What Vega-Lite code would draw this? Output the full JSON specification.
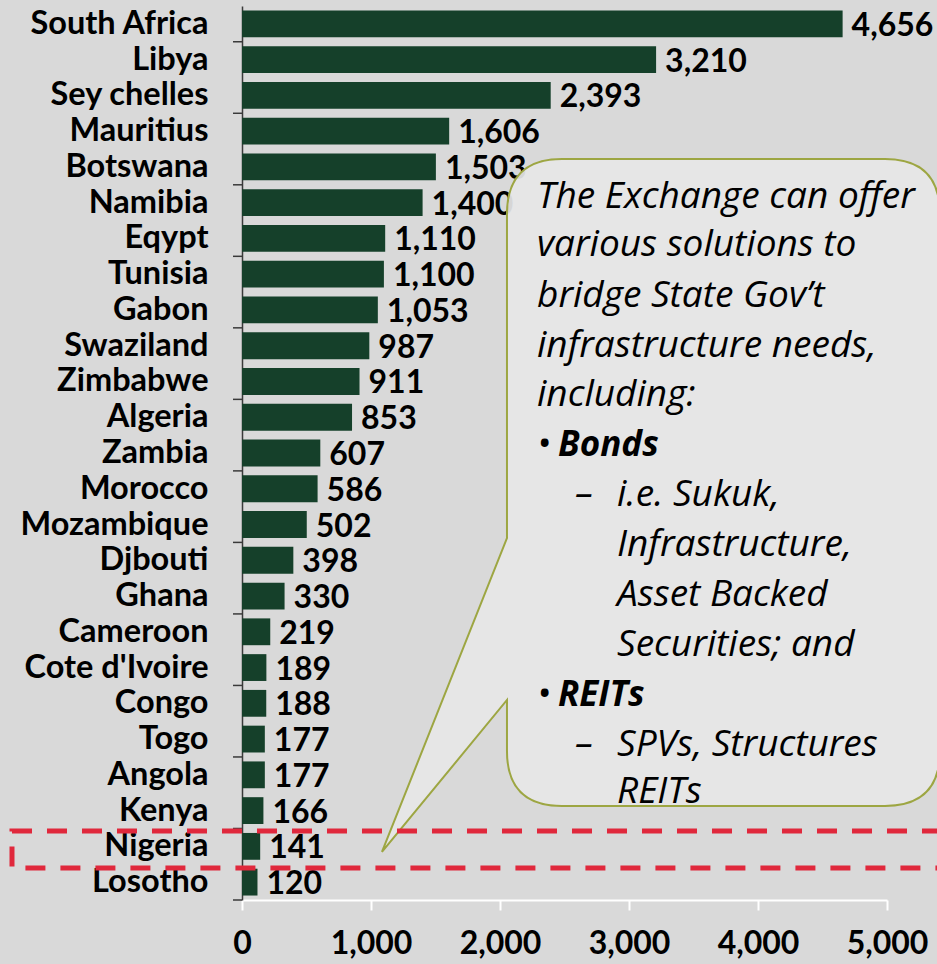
{
  "$schema": "https://vega.github.io/schema/vega-lite/v6.json",
  "width": 645,
  "height": 894,
  "autosize": {"type": "none"},
  "padding": {"left": 242, "top": 6, "right": 50, "bottom": 64},
  "background": "#d9d9d9",
  "config": {"view": {"stroke": null}, "font": "Lato"},
  "datasets": {
    "countries": [
      {"country": "South Africa", "value": 4656},
      {"country": "Libya", "value": 3210},
      {"country": "Sey chelles", "value": 2393},
      {"country": "Mauritius", "value": 1606},
      {"country": "Botswana", "value": 1503},
      {"country": "Namibia", "value": 1400},
      {"country": "Eqypt", "value": 1110},
      {"country": "Tunisia", "value": 1100},
      {"country": "Gabon", "value": 1053},
      {"country": "Swaziland", "value": 987},
      {"country": "Zimbabwe", "value": 911},
      {"country": "Algeria", "value": 853},
      {"country": "Zambia", "value": 607},
      {"country": "Morocco", "value": 586},
      {"country": "Mozambique", "value": 502},
      {"country": "Djbouti", "value": 398},
      {"country": "Ghana", "value": 330},
      {"country": "Cameroon", "value": 219},
      {"country": "Cote d'Ivoire", "value": 189},
      {"country": "Congo", "value": 188},
      {"country": "Togo", "value": 177},
      {"country": "Angola", "value": 177},
      {"country": "Kenya", "value": 166},
      {"country": "Nigeria", "value": 141},
      {"country": "Losotho", "value": 120}
    ],
    "boundaries": [
      {"row": 1}, {"row": 3}, {"row": 5}, {"row": 7}, {"row": 9}, {"row": 11}, {"row": 13},
      {"row": 15}, {"row": 17}, {"row": 19}, {"row": 21}, {"row": 23}, {"row": 25}
    ],
    "callout": [{"x": 3240, "row": 13.954}],
    "highlight": [{"x1": -1783, "x2": 5800, "r1": 23.07, "r2": 24.105}],
    "lines": [
      {"text": "The Exchange can offer", "x": 2287, "row": 5.341, "bold": false},
      {"text": "various solutions to", "x": 2287, "row": 6.683, "bold": false},
      {"text": "bridge State Gov’t", "x": 2287, "row": 8.11, "bold": false},
      {"text": "infrastructure needs,", "x": 2287, "row": 9.508, "bold": false},
      {"text": "including:", "x": 2287, "row": 10.878, "bold": false},
      {"text": "•", "x": 2287, "row": 12.276, "bold": false},
      {"text": "Bonds", "x": 2450, "row": 12.276, "bold": true},
      {"text": "–", "x": 2581, "row": 13.674, "bold": false},
      {"text": "i.e. Sukuk,", "x": 2907, "row": 13.674, "bold": false},
      {"text": "Infrastructure,", "x": 2907, "row": 15.072, "bold": false},
      {"text": "Asset Backed", "x": 2907, "row": 16.471, "bold": false},
      {"text": "Securities; and", "x": 2907, "row": 17.869, "bold": false},
      {"text": "•", "x": 2287, "row": 19.267, "bold": false},
      {"text": "REITs", "x": 2450, "row": 19.267, "bold": true},
      {"text": "–", "x": 2581, "row": 20.666, "bold": false},
      {"text": "SPVs, Structures", "x": 2907, "row": 20.666, "bold": false},
      {"text": "REITs", "x": 2907, "row": 21.98, "bold": false}
    ]
  },
  "layer": [
    {
      "data": {"name": "countries"},
      "encoding": {
        "y": {
          "field": "country",
          "type": "nominal",
          "sort": null,
          "scale": {"paddingInner": 0.25, "paddingOuter": 0.125},
          "axis": {
            "title": null,
            "ticks": false,
            "domainColor": "#3a3a3a",
            "domainWidth": 1.5,
            "labelPadding": 34,
            "labelFont": "Lato",
            "labelFontSize": 32.5,
            "labelFontWeight": "bold",
            "labelColor": "#000000",
            "labelLimit": 300
          }
        },
        "x": {
          "field": "value",
          "type": "quantitative",
          "scale": {"domain": [0, 5000], "nice": false},
          "axis": {
            "title": null,
            "values": [0, 1000, 2000, 3000, 4000, 5000],
            "format": ",.0f",
            "grid": false,
            "domainColor": "#ffffff",
            "domainWidth": 2,
            "tickColor": "#ffffff",
            "tickWidth": 2,
            "tickSize": 10,
            "labelPadding": 18,
            "labelFont": "Lato",
            "labelFontSize": 32,
            "labelFontWeight": "bold",
            "labelColor": "#000000",
            "labelFlush": false,
            "labelOverlap": false
          }
        }
      },
      "layer": [
        {"mark": {"type": "bar", "fill": "#15402a"}},
        {
          "mark": {"type": "text", "align": "left", "baseline": "middle", "dx": 9, "dy": 2, "font": "Lato", "fontSize": 32, "fontWeight": "bold", "color": "#000000"},
          "encoding": {"text": {"field": "value", "type": "quantitative", "format": ","}}
        }
      ]
    },
    {
      "layer": [
        {
          "data": {"name": "boundaries"},
          "mark": {"type": "rule", "color": "#3a3a3a", "strokeWidth": 1.5},
          "encoding": {
            "x": {"datum": -70, "type": "quantitative", "scale": {"domain": [0, 5000], "nice": false}},
            "x2": {"datum": 0},
            "y": {"field": "row", "type": "quantitative", "scale": {"domain": [0, 25], "reverse": true, "nice": false}, "axis": null}
          }
        },
        {
          "data": {"name": "callout"},
          "mark": {
            "type": "point",
            "shape": "M-0.28,-0.9886 L0.6429,-0.9886 Q0.8,-0.9886 0.8,-0.8314 L0.8,0.7029 Q0.8,0.86 0.6429,0.86 L-0.28,0.86 Q-0.4371,0.86 -0.4371,0.7029 L-0.4371,0.5571 L-0.7943,0.9914 L-0.4371,0.0943 L-0.4371,-0.8314 Q-0.4371,-0.9886 -0.28,-0.9886 Z",
            "size": 490000,
            "filled": true,
            "fill": "#e6e6e6",
            "fillOpacity": 0.93,
            "opacity": 1,
            "stroke": "#9da642",
            "strokeWidth": 2,
            "strokeOpacity": 1
          },
          "encoding": {
            "x": {"field": "x", "type": "quantitative", "scale": {"domain": [0, 5000], "nice": false}},
            "y": {"field": "row", "type": "quantitative", "scale": {"domain": [0, 25], "reverse": true, "nice": false}, "axis": null}
          }
        },
        {
          "data": {"name": "lines"},
          "transform": [{"filter": "!datum.bold"}],
          "mark": {"type": "text", "align": "left", "baseline": "middle", "font": "Open Sans", "fontStyle": "italic", "fontSize": 37, "color": "#000000"},
          "encoding": {
            "x": {"field": "x", "type": "quantitative", "scale": {"domain": [0, 5000], "nice": false}},
            "y": {"field": "row", "type": "quantitative", "scale": {"domain": [0, 25], "reverse": true, "nice": false}, "axis": null},
            "text": {"field": "text"}
          }
        },
        {
          "data": {"name": "lines"},
          "transform": [{"filter": "datum.bold"}],
          "mark": {"type": "text", "align": "left", "baseline": "middle", "font": "Open Sans", "fontStyle": "italic", "fontWeight": "bold", "fontSize": 35, "color": "#000000"},
          "encoding": {
            "x": {"field": "x", "type": "quantitative", "scale": {"domain": [0, 5000], "nice": false}},
            "y": {"field": "row", "type": "quantitative", "scale": {"domain": [0, 25], "reverse": true, "nice": false}, "axis": null},
            "text": {"field": "text"}
          }
        },
        {
          "data": {"name": "highlight"},
          "mark": {"type": "rect", "filled": false, "fill": null, "stroke": "#e0283c", "strokeWidth": 5, "strokeDash": [20, 15]},
          "encoding": {
            "x": {"field": "x1", "type": "quantitative", "scale": {"domain": [0, 5000], "nice": false}},
            "x2": {"field": "x2"},
            "y": {"field": "r1", "type": "quantitative", "scale": {"domain": [0, 25], "reverse": true, "nice": false}, "axis": null},
            "y2": {"field": "r2"}
          }
        }
      ]
    }
  ],
  "resolve": {"scale": {"y": "independent"}}
}
